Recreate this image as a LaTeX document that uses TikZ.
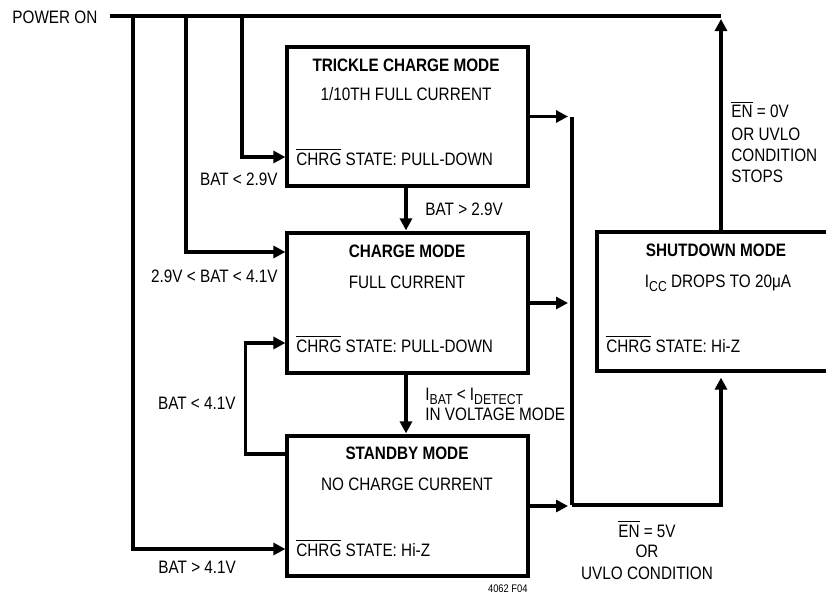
\documentclass[tikz,border=0pt]{standalone}
\usepackage{fontspec}
\setmainfont{Liberation Sans}[FakeStretch=0.85]
\usetikzlibrary{arrows.meta}
\newcommand\ovl[1]{\ensuremath{\overline{\mbox{#1}}}}
\newcommand\sbs[1]{\raisebox{-0.5ex}{\fontsize{7.2}{8}\selectfont #1}}
\begin{document}
\begin{tikzpicture}[x=0.5pt,y=-0.5pt,
  wire/.style={line width=1.6pt},
  arr/.style={wire,-{Triangle[length=6pt,width=6pt]}},
  box/.style={draw,line width=1.6pt,rectangle,inner sep=0pt},
  txt/.style={font=\fontsize{9}{10.5}\selectfont,inner sep=0pt},
  ttl/.style={font=\fontsize{9}{10.5}\selectfont\bfseries,inner sep=0pt}]
\useasboundingbox (0,0) rectangle (826,594);

% boxes
\node[box,minimum width=120.5pt,minimum height=69.5pt] (trickle) at (407.5,116.5) {};
\node[box,minimum width=120.5pt,minimum height=70pt] (charge) at (407.5,303) {};
\node[box,minimum width=120.5pt,minimum height=70pt] (standby) at (407.5,506) {};
\node[box,minimum width=119pt,minimum height=69.5pt] (shutdown) at (716,301.5) {};

% box texts
\node[ttl,anchor=base] (t1) at (406,71) {TRICKLE CHARGE MODE};
\node[txt,anchor=base] (t2) at (406,100) {1/10TH FULL CURRENT};
\node[txt,anchor=base west] (t3) at (296,165) {\ovl{CHRG} STATE: PULL-DOWN};
\node[ttl,anchor=base] (c1) at (407,257) {CHARGE MODE};
\node[txt,anchor=base] (c2) at (407,288) {FULL CURRENT};
\node[txt,anchor=base west] (c3) at (296,352) {\ovl{CHRG} STATE: PULL-DOWN};
\node[ttl,anchor=base] (s1) at (407,459) {STANDBY MODE};
\node[txt,anchor=base] (s2) at (407,490) {NO CHARGE CURRENT};
\node[txt,anchor=base west] (s3) at (296,556) {\ovl{CHRG} STATE: Hi-Z};
\node[ttl,anchor=base] (d1) at (716,256) {SHUTDOWN MODE};
\node[txt,anchor=base] (d2) at (718,287) {I\sbs{CC} DROPS TO 20μA};
\node[txt,anchor=base west] (d3) at (606,352) {\ovl{CHRG} STATE: Hi-Z};

% power on line
\node[txt,anchor=base west] (pwr) at (12,24) {POWER ON};
\coordinate (pend) at (721,16);
\coordinate (j1) at (133,16);
\coordinate (j2) at (186,16);
\coordinate (j3) at (242,16);
\draw[wire] ([xshift=6pt]pwr.east |- pend) -- (pend);
\draw[arr] (j3) |- ([yshift=-20.25pt]trickle.west);
\draw[arr] (j2) |- ([yshift=25.5pt]charge.west);
\draw[arr] (j1) |- ([yshift=-21.5pt]standby.west);

% vertical transitions
\draw[arr,shorten >=0.5pt] ([xshift=-0.75pt]trickle.south) -- ([xshift=-0.75pt]charge.north);
\draw[arr,shorten >=0.5pt] ([xshift=-0.75pt]charge.south) -- ([xshift=-0.75pt]standby.north);

% loop standby -> charge
\coordinate (lp) at (245.5,343);
\draw[arr] ([yshift=26pt]standby.west) -| (lp) |- ([yshift=-20pt]charge.west);

% bus
\coordinate (bt) at (572,117);
\coordinate (bb) at (572,505);
\draw[arr,shorten >=2pt] (trickle.east) -- (trickle.east -| bt);
\draw[arr,shorten >=2pt] (charge.east) -- (charge.east -| bt);
\draw[arr,shorten >=2pt] (standby.east) -- (standby.east -| bt);
\draw[wire] (bt) -- (bb);
\draw[arr,shorten >=2.5pt] (bb) -| ([xshift=2.5pt]shutdown.south);
\draw[arr,shorten >=1.5pt] ([xshift=2.5pt]shutdown.north) -- (pend);

% labels
\node[txt,anchor=base east] (l1) at (278,185) {BAT < 2.9V};
\node[txt,anchor=base east] (l2) at (278,282) {2.9V < BAT < 4.1V};
\node[txt,anchor=base east] (l3) at (236,409) {BAT < 4.1V};
\node[txt,anchor=base west] (l4) at (158,573) {BAT > 4.1V};
\node[txt,anchor=base west] (l5) at (425,215) {BAT > 2.9V};
\node[txt,anchor=base west] (l6) at (425,400) {I\sbs{BAT} < I\sbs{DETECT}};
\node[txt,anchor=base west] (l7) at (425,420) {IN VOLTAGE MODE};
\node[txt,anchor=base west] (e1) at (731,118) {\ovl{EN} = 0V};
\node[txt,anchor=base west] (e2) at (731,140) {OR UVLO};
\node[txt,anchor=base west] (e3) at (731,161) {CONDITION};
\node[txt,anchor=base west] (e4) at (731,182) {STOPS};
\node[txt,anchor=base] (f1) at (647,537) {\ovl{EN} = 5V};
\node[txt,anchor=base] (f2) at (647,557) {OR};
\node[txt,anchor=base] (f3) at (647,579) {UVLO CONDITION};
\node[inner sep=0pt,anchor=base east,font=\fontsize{5.5}{6}\selectfont] (fig) at (528,592) {4062 F04};
\end{tikzpicture}
\end{document}
